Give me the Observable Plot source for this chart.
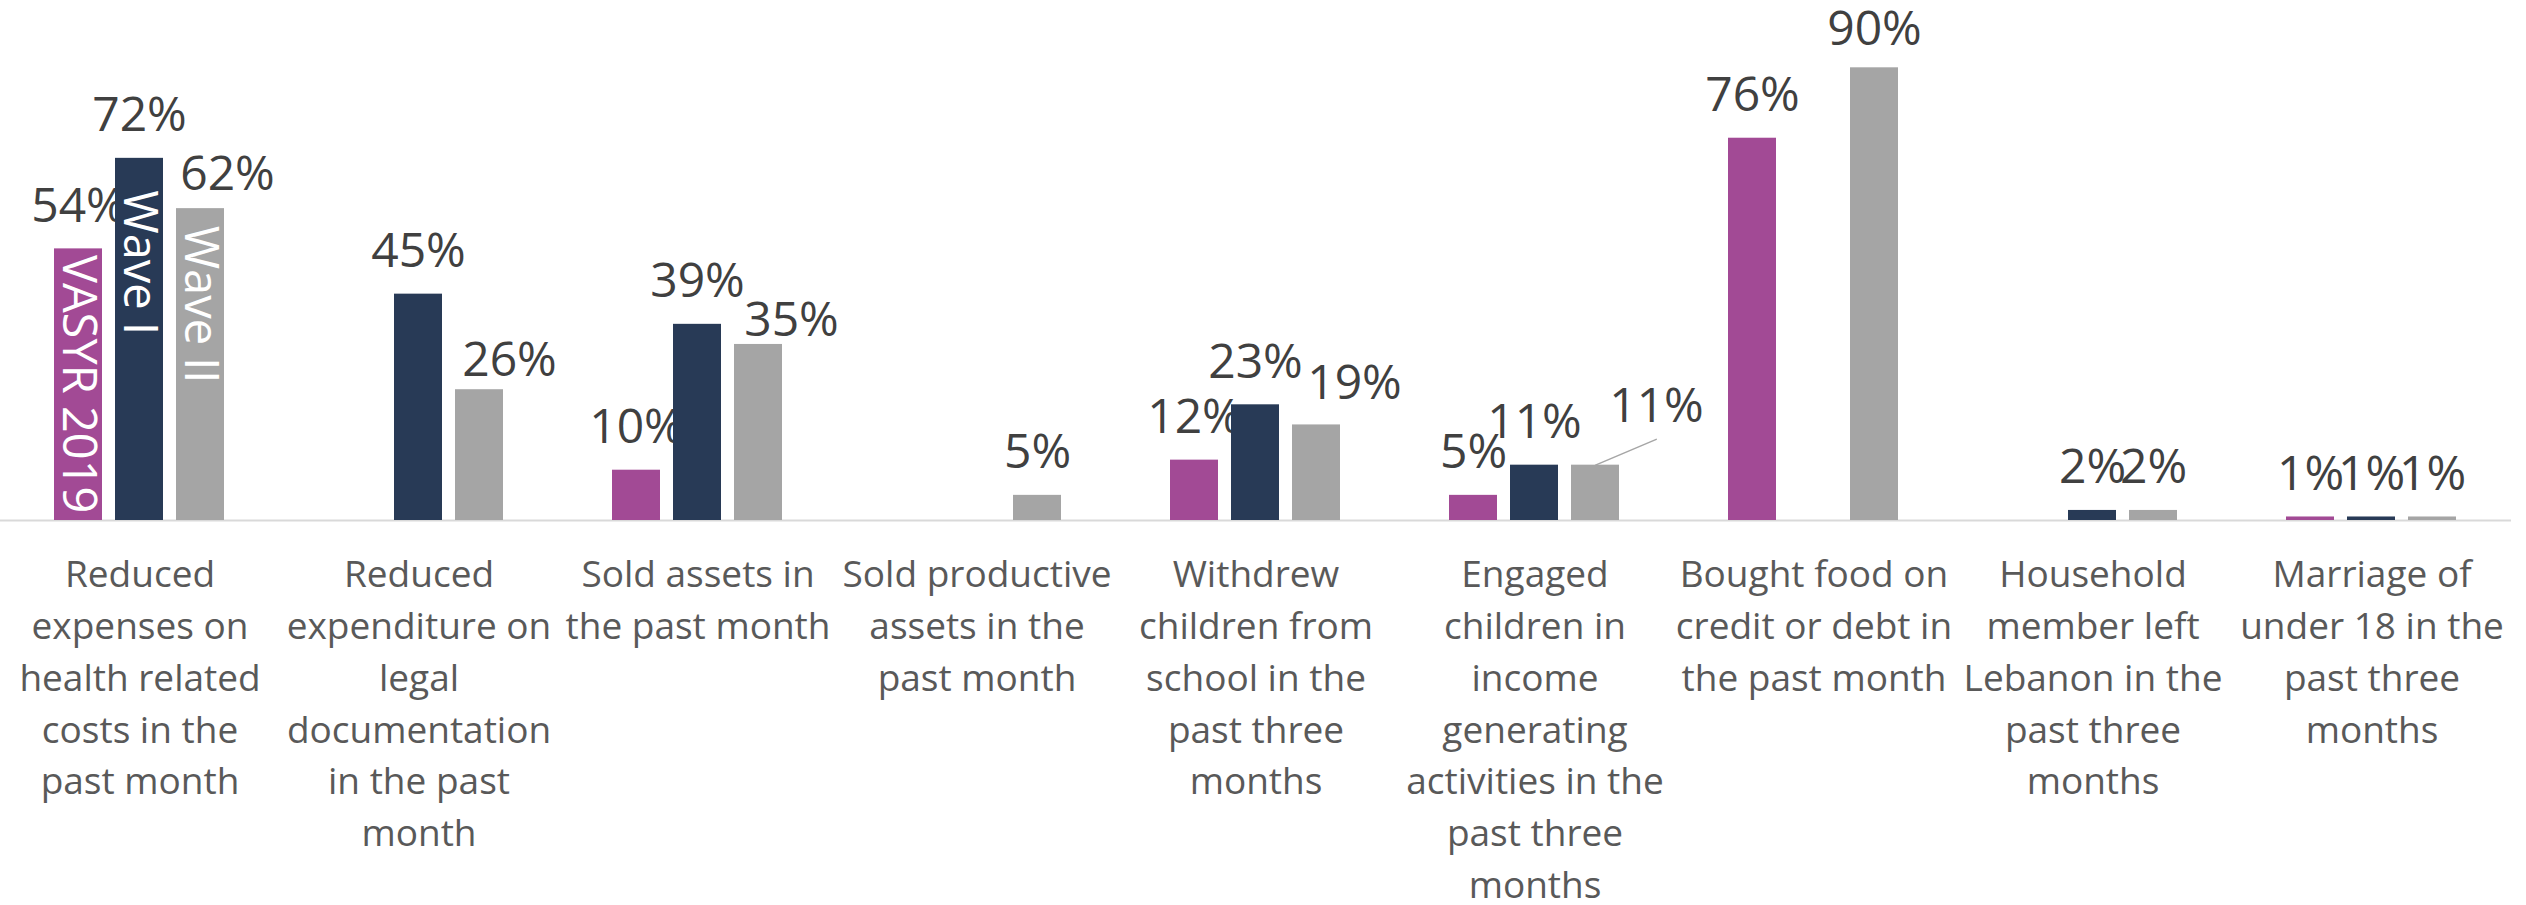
<!DOCTYPE html>
<html>
<head>
<meta charset="utf-8">
<script src="https://cdn.jsdelivr.net/npm/d3@7"></script>
<script src="https://cdn.jsdelivr.net/npm/@observablehq/plot@0.6"></script>
<style>
  html, body { margin: 0; padding: 0; background: #fff; }
</style>
</head>
<body>
<div id="chart"></div>
<script>
// ---- Data ----
const categories = [
  "Reduced\nexpenses on\nhealth related\ncosts in the\npast month",
  "Reduced\nexpenditure on\nlegal\ndocumentation\nin the past\nmonth",
  "Sold assets in\nthe past month",
  "Sold productive\nassets in the\npast month",
  "Withdrew\nchildren from\nschool in the\npast three\nmonths",
  "Engaged\nchildren in\nincome\ngenerating\nactivities in the\npast three\nmonths",
  "Bought food on\ncredit or debt in\nthe past month",
  "Household\nmember left\nLebanon in the\npast three\nmonths",
  "Marriage of\nunder 18 in the\npast three\nmonths"
];
const seriesNames = ["VASYR 2019", "Wave I", "Wave II"];
const vasyr2019 = [54, null, 10, null, 12, 5, 76, null, 0.7];
const waveI     = [72, 45, 39, null, 23, 11, null, 2, 0.7];
const waveII    = [62, 26, 35, 5, 19, 11, 90, 2, 0.7];
const seriesColors = ["#A24A95", "#283A56", "#A5A5A5"];

// ---- Table ----
const seriesValues = [vasyr2019, waveI, waveII];
const rows = [];
categories.forEach((c, i) => {
  seriesNames.forEach((s, j) => {
    const v = seriesValues[j][i];
    if (v != null) rows.push({ci: i, category: c, series: s, value: v, label: Math.round(v) + "%"});
  });
});

// label placement nudges (pixels), as in the original chart's manual label positions
const nudges = [
  {ci: 0, series: "Wave II", dx: 27, dy: -19},
  {ci: 1, series: "Wave II", dx: 30, dy: -14},
  {ci: 2, series: "Wave II", dx: 33, dy: -8},
  {ci: 4, series: "Wave II", dx: 38, dy: -26},
  {ci: 5, series: "Wave II", dx: 61, dy: -43},
  {ci: 6, series: "Wave II", dx: 0, dy: -23}
];
const findNudge = d => nudges.find(n => n.ci === d.ci && n.series === d.series);
const normalLabels = rows.filter(d => !findNudge(d));
const firstGroup = rows.filter(d => d.ci === 0);
const leaderRows = rows.filter(d => d.ci === 5 && d.series === "Wave II");

const labelStyle = {fx: "category", x: "series", y: "value", text: "label",
  lineAnchor: "bottom", fontSize: 48, fill: "#404040"};

const nameOffsets = {"VASYR 2019": 6, "Wave I": 32, "Wave II": 17};

const chart = Plot.plot({
  width: 2526,
  height: 905,
  marginTop: 17,
  marginBottom: 385,
  marginLeft: 0,
  marginRight: 15,
  style: {fontFamily: "'Open Sans', sans-serif", background: "white"},
  fx: {domain: categories, padding: 0, label: null},
  x: {domain: seriesNames, paddingInner: 0.213, paddingOuter: 0.878, axis: null},
  y: {domain: [0, 100], axis: null},
  color: {domain: seriesNames, range: seriesColors},
  marks: [
    Plot.ruleY([0], {stroke: "#D9D9D9", strokeWidth: 2}),
    Plot.text(normalLabels, {...labelStyle, dy: -27}),
    ...nudges.map(n => Plot.text(rows.filter(d => d.ci === n.ci && d.series === n.series),
      {...labelStyle, dx: n.dx, dy: n.dy})),
    Plot.vector(leaderRows, {
      fx: "category", x: "series", y: "value",
      length: 66, rotate: 67, anchor: "start", stroke: "#A6A6A6", strokeWidth: 1.5,
      shape: {draw(context, l) { context.moveTo(0, 0); context.lineTo(0, -l); }}
    }),
    Plot.barY(rows, {fx: "category", x: "series", y: "value", fill: "series"}),
    ...seriesNames.map(s => Plot.text(firstGroup.filter(d => d.series === s), {
      fx: "category", x: "series", y: "value", text: "series",
      rotate: 90, textAnchor: "start", fontSize: 47, fill: "white", dy: nameOffsets[s]
    })),
    Plot.axisFx({anchor: "bottom", tickSize: 0, tickPadding: 30, fontSize: 37,
      lineHeight: 1.40, fill: "#595959", label: null})
  ]
});
document.getElementById("chart").appendChild(chart);
</script>
</body>
</html>
